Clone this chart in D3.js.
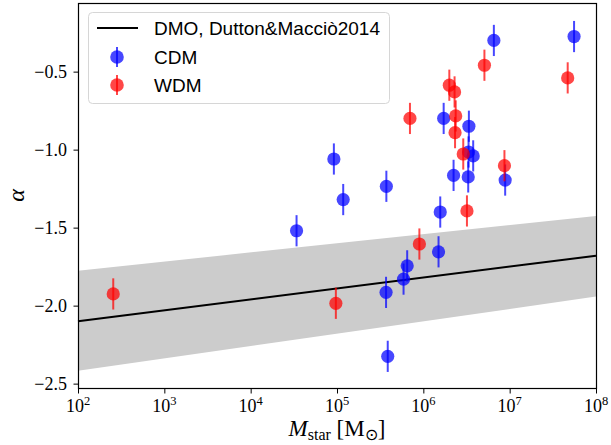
<!DOCTYPE html>
<html>
<head>
<meta charset="utf-8">
<script src="https://d3js.org/d3.v7.min.js" charset="utf-8"></script>
<style>
body { margin: 0; background: #fff; }
</style>
</head>
<body>
<script>
// CDM haloes: stellar mass and inner slope, with errors
var cdmMass  = [3.4e4, 9.2e4, 1.18e5, 3.73e5, 3.7e5, 3.87e5, 5.9e5, 6.5e5, 1.5e6, 1.57e6,
                1.72e6, 2.24e6, 3.31e6, 3.37e6, 3.34e6, 3.78e6, 8.87e6, 6.56e6, 5.57e7];
var cdmAlpha = [-1.52, -1.06, -1.32, -1.235, -1.915, -2.325, -1.83, -1.745, -1.655, -1.40,
                -0.80, -1.165, -1.175, -0.85, -1.015, -1.04, -1.195, -0.30, -0.275];
var cdmErr   = [0.1, 0.1, 0.1, 0.1, 0.1, 0.1, 0.1, 0.1, 0.1, 0.1,
                0.1, 0.1, 0.1, 0.1, 0.1, 0.1, 0.1, 0.1, 0.1];

// WDM haloes
var wdmMass  = [256, 9.7e4, 7.0e5, 9.0e5, 2.0e6, 2.3e6, 2.37e6, 2.33e6, 2.9e6, 3.2e6, 5.1e6, 8.7e6, 4.7e7];
var wdmAlpha = [-1.925, -1.985, -0.80, -1.605, -0.587, -0.63, -0.784, -0.891, -1.028, -1.393, -0.459, -1.103, -0.54];
var wdmErr   = [0.1, 0.1, 0.1, 0.1, 0.1, 0.1, 0.1, 0.1, 0.1, 0.1, 0.1, 0.1, 0.1];

// DMO relation and its scatter
var dmoMass  = [1e2, 1e8];
var dmoAlpha = [-2.10, -1.68];
var bandHi   = [-1.776, -1.425];
var bandLo   = [-2.417, -1.942];

var xTicks = [1e2, 1e3, 1e4, 1e5, 1e6, 1e7, 1e8];
var yTicks = [-2.5, -2.0, -1.5, -1.0, -0.5];

var width = 611, height = 445;
var L = 78, T = 3, R = 596, B = 388;

var svg = d3.select("body").append("svg")
  .attr("width", width).attr("height", height);

var x = d3.scaleLog().domain([1e2, 1e8]).range([L, R]);
var y = d3.scaleLinear().domain([-2.528, -0.06]).range([B, T]);

var serif = "'Liberation Serif', 'Times New Roman', serif";
var sans = "'Liberation Sans', Arial, Helvetica, sans-serif";

// band
var band = dmoMass.map(function(m, i) { return {m: m, lo: bandLo[i], hi: bandHi[i]}; });
svg.append("path")
  .datum(band)
  .attr("fill", "#cccccc")
  .attr("d", d3.area().x(function(d) { return x(d.m); })
    .y0(function(d) { return y(d.lo); }).y1(function(d) { return y(d.hi); }));

// DMO line
svg.append("path")
  .datum(dmoMass.map(function(m, i) { return [m, dmoAlpha[i]]; }))
  .attr("fill", "none").attr("stroke", "#000").attr("stroke-width", 2)
  .attr("d", d3.line().x(function(d) { return x(d[0]); }).y(function(d) { return y(d[1]); }));

function drawPoints(mass, alpha, err, color) {
  var g = svg.append("g");
  var data = mass.map(function(m, i) { return {m: m, a: alpha[i], e: err[i]}; });
  var pts = g.selectAll("g").data(data).enter().append("g");
  pts.append("line")
    .attr("x1", function(d) { return x(d.m); }).attr("x2", function(d) { return x(d.m); })
    .attr("y1", function(d) { return y(d.a - d.e); }).attr("y2", function(d) { return y(d.a + d.e); })
    .attr("stroke", color).attr("stroke-width", 2).attr("stroke-opacity", 0.72);
  pts.append("circle")
    .attr("cx", function(d) { return x(d.m); }).attr("cy", function(d) { return y(d.a); })
    .attr("r", 6.6).attr("fill", color).attr("fill-opacity", 0.72);
}
drawPoints(cdmMass, cdmAlpha, cdmErr, "#0000ff");
drawPoints(wdmMass, wdmAlpha, wdmErr, "#ff0000");

// frame
svg.append("rect")
  .attr("x", L + 0.5).attr("y", T + 0.5).attr("width", R - L).attr("height", B - T)
  .attr("fill", "none").attr("stroke", "#000").attr("stroke-width", 1.2);

// x axis
var minor = [];
for (var e = 2; e < 8; e++) for (var k = 2; k < 10; k++) minor.push(k * Math.pow(10, e));
var gx = svg.append("g").attr("transform", "translate(0," + (B + 0.5) + ")");
gx.call(d3.axisBottom(x).tickValues(minor).tickSize(2.5).tickFormat(""));
gx.call(d3.axisBottom(x).tickValues(xTicks).tickSize(5).tickFormat(""));
gx.selectAll(".domain").remove();
gx.selectAll("line").attr("stroke", "#000").attr("stroke-width", 1);

var xl = svg.append("g").selectAll("text").data(xTicks).enter().append("text")
  .attr("x", function(d) { return x(d); }).attr("y", 412)
  .attr("text-anchor", "middle")
  .style("font-family", serif).style("font-size", "18px");
xl.append("tspan").text("10");
xl.append("tspan").attr("dy", -7).style("font-size", "12.5px")
  .text(function(d) { return Math.round(Math.log10(d)); });

// y axis
var gy = svg.append("g").attr("transform", "translate(" + (L + 0.5) + ",0)");
gy.call(d3.axisLeft(y).tickValues(yTicks).tickSize(5).tickFormat(""));
gy.selectAll(".domain").remove();
gy.selectAll("line").attr("stroke", "#000").attr("stroke-width", 1);

svg.append("g").selectAll("text").data(yTicks).enter().append("text")
  .attr("x", 67).attr("y", function(d) { return y(d) + 6; })
  .attr("text-anchor", "end")
  .style("font-family", serif).style("font-size", "18px")
  .text(function(d) { return d3.format(".1f")(d).replace("-", "\u2212"); });

// axis labels
var xlab = svg.append("text")
  .attr("x", (L + R) / 2).attr("y", 436)
  .attr("text-anchor", "middle")
  .style("font-family", serif).style("font-size", "23px");
xlab.append("tspan").style("font-style", "italic").text("M");
xlab.append("tspan").attr("dy", 4).style("font-size", "16px").text("star");
xlab.append("tspan").attr("dy", -4).text(" [M");
xlab.append("tspan").attr("dy", 4).style("font-size", "16px").text("\u2299");
xlab.append("tspan").attr("dy", -4).text("]");

svg.append("text")
  .attr("transform", "translate(24," + ((T + B) / 2) + ") rotate(-90)")
  .attr("text-anchor", "middle")
  .style("font-family", serif).style("font-size", "24px").style("font-style", "italic")
  .text("\u03b1");

// legend
var lg = svg.append("g");
lg.append("rect")
  .attr("x", 88.5).attr("y", 12.5).attr("width", 301).attr("height", 91).attr("rx", 4)
  .attr("fill", "#fff").attr("fill-opacity", 0.8)
  .attr("stroke", "#d6d6d6").attr("stroke-width", 1);
lg.append("line").attr("x1", 97).attr("x2", 138).attr("y1", 28).attr("y2", 28)
  .attr("stroke", "#000").attr("stroke-width", 2);
var legItems = [
  {label: "CDM", color: "#0000ff", cy: 57},
  {label: "WDM", color: "#ff0000", cy: 85}
];
legItems.forEach(function(it) {
  lg.append("line").attr("x1", 117).attr("x2", 117).attr("y1", it.cy - 10).attr("y2", it.cy + 10)
    .attr("stroke", it.color).attr("stroke-width", 2).attr("stroke-opacity", 0.72);
  lg.append("circle").attr("cx", 117).attr("cy", it.cy).attr("r", 6.8)
    .attr("fill", it.color).attr("fill-opacity", 0.72);
});
var legText = ["DMO, Dutton&Macci\u00f22014", "CDM", "WDM"];
var legY = [28, 57, 85];
lg.selectAll("text.leg").data(legText).enter().append("text")
  .attr("class", "leg")
  .attr("x", 154).attr("y", function(d, i) { return legY[i] + 7; })
  .style("font-family", sans).style("font-size", "19px")
  .text(function(d) { return d; });
</script>
</body>
</html>
